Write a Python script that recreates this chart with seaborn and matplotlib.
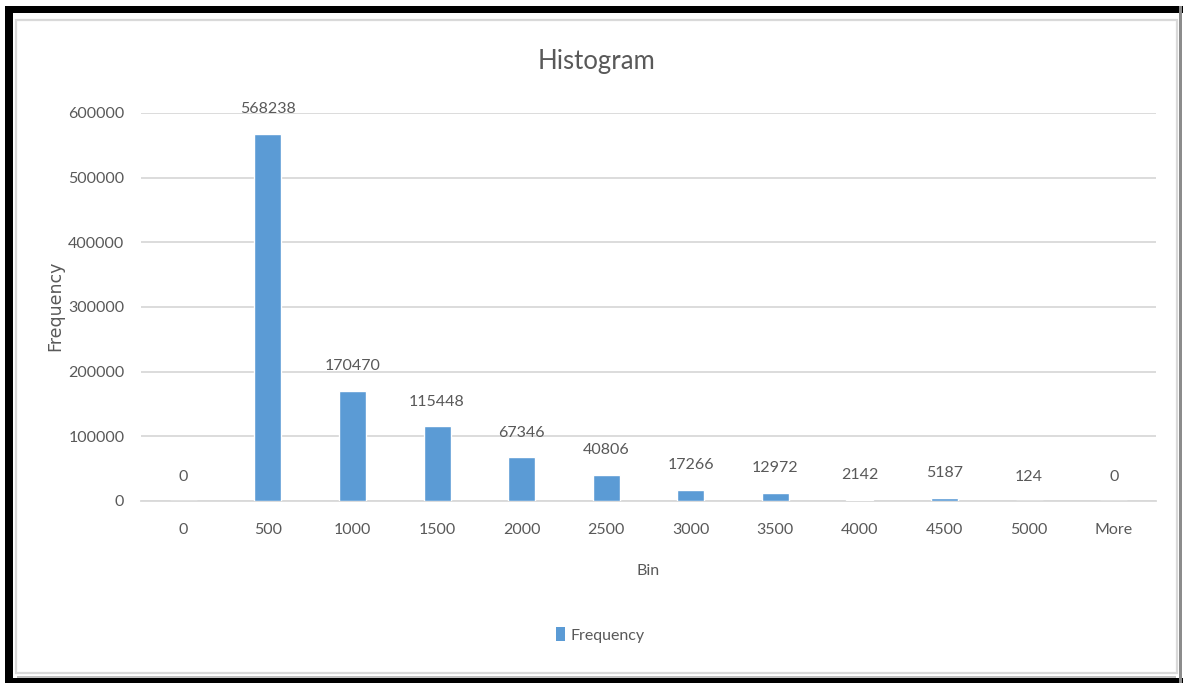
import matplotlib
matplotlib.use("Agg")
import matplotlib.pyplot as plt
from matplotlib.patches import Rectangle
import seaborn as sns
import pandas as pd

bins = ["0", "500", "1000", "1500", "2000", "2500", "3000", "3500",
        "4000", "4500", "5000", "More"]
frequency = [0, 568238, 170470, 115448, 67346, 40806, 17266, 12972,
             2142, 5187, 124, 0]
y_ticks = [0, 100000, 200000, 300000, 400000, 500000, 600000]

BAR = "#5B9BD5"
TEXT = "#595959"
GRID = "#D9D9D9"

sns.set_style("white")
plt.rcParams["font.family"] = ["Lato", "DejaVu Sans"]

W, H = 1183, 683
fig = plt.figure(figsize=(W / 100, H / 100), dpi=100)
fig.patch.set_facecolor("white")

def px_rect(x0, y0, x1, y1, **kw):
    # rectangle given in pixel coordinates measured from the top-left corner
    fig.patches.append(Rectangle((x0 / W, 1 - y1 / H), (x1 - x0) / W, (y1 - y0) / H,
                                 transform=fig.transFigure, figure=fig, **kw))

# dark frame around the chart
px_rect(5, 6, 1183, 13, facecolor="black", edgecolor="none", zorder=0)
px_rect(5, 6, 13, 683, facecolor="black", edgecolor="none", zorder=0)
px_rect(5, 678, 1183, 683, facecolor="black", edgecolor="none", zorder=0)
px_rect(1179, 6, 1182, 683, facecolor="#8C8C8C", edgecolor="none", zorder=0)
px_rect(17, 676, 1176, 678, facecolor="#BFBFBF", edgecolor="none", zorder=0)
# light chart border
px_rect(16, 20, 1177, 673, facecolor="none", edgecolor=GRID, linewidth=1.6, zorder=0)

left, right, top, bottom = 141, 1156, 113, 501
ax = fig.add_axes([left / W, 1 - bottom / H, (right - left) / W, (bottom - top) / H])

df = pd.DataFrame({"Bin": bins, "Frequency": frequency})
sns.barplot(data=df, x="Bin", y="Frequency", color=BAR, width=0.32,
            saturation=1, ax=ax, zorder=3)

ax.set_ylim(0, 600000)
ax.set_xlim(-0.5, len(bins) - 0.5)
ax.set_yticks(y_ticks)
ax.set_yticklabels([str(v) for v in y_ticks])
ax.yaxis.grid(True, color=GRID, linewidth=1.3, zorder=0)
ax.set_axisbelow(True)
for s in ["top", "right", "left"]:
    ax.spines[s].set_visible(False)
ax.spines["bottom"].set_color(GRID)
ax.spines["bottom"].set_linewidth(1.3)
ax.tick_params(axis="both", length=0, labelsize=11.5, colors=TEXT)
ax.tick_params(axis="y", pad=12)
ax.tick_params(axis="x", pad=16)
ax.set_xlabel("Bin", fontsize=11.5, color=TEXT, labelpad=19)
ax.set_ylabel("")

for i, v in enumerate(frequency):
    ax.annotate(str(v), xy=(i, v), xytext=(0, 12.5), textcoords="offset points",
                ha="center", va="bottom", fontsize=11.5, color=TEXT)

fig.text(597 / W, 1 - 62 / H, "Histogram", ha="center", va="center",
         fontsize=18.5, color=TEXT)
fig.text(55 / W, 1 - 306 / H, "Frequency", ha="center", va="center",
         rotation=90, fontsize=12.5, color=TEXT, family=["DejaVu Sans"])

handle = Rectangle((0, 0), 1, 1, facecolor=BAR, edgecolor="none")
fig.legend([handle], ["Frequency"], loc="center", bbox_to_anchor=(600 / W, 1 - 635 / H),
           frameon=False, fontsize=11.5, labelcolor=TEXT, handlelength=0.6,
           handleheight=0.9, handletextpad=0.3)

fig.savefig("out.png", dpi=100, facecolor="white")
